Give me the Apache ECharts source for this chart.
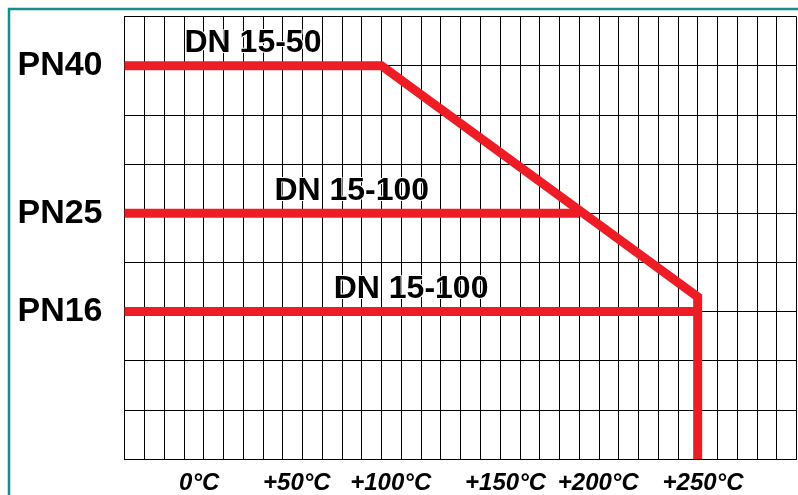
<!DOCTYPE html>
<html>
<head>
<meta charset="utf-8">
<script src="https://cdn.jsdelivr.net/npm/echarts@6/dist/echarts.min.js"></script>
<style>
  html, body { margin: 0; padding: 0; background: #fff; }
  #chart { width: 798px; height: 495px; }
</style>
</head>
<body>
<div id="chart"></div>
<script>
// grid columns / rows (chart uses grid units)
const colCount = 34;
const rowCount = 9;

// pressure levels: row position on the grid
const pnNames = ["PN40", "PN25", "PN16"];
const pnRows = [8, 5, 3];

// temperature labels and their position in grid columns
const tempLabels = ["0°C", "+50°C", "+100°C", "+150°C", "+200°C", "+250°C"];
const tempCols = [3.78, 8.72, 13.47, 19.28, 23.97, 29.27];

// curves [column, row]
const pn40Line = [[0, 8], [13, 8], [29, 3.3], [29, 0]];
const pn25Line = [[0, 5], [23, 5]];
const pn16Line = [[0, 3], [29, 3]];

// size range labels
const dnLabels = ["DN 15-50", "DN 15-100", "DN 15-100"];
const dnPos = [[6.5, 8.45], [11.5, 5.45], [14.5, 3.45]];

const red = "#ee1c25";
const font = "'Liberation Sans', Arial, sans-serif";

const myChart = echarts.init(document.getElementById("chart"));

const lineSeries = [pn40Line, pn25Line, pn16Line].map(function (d) {
  return {
    type: "line",
    data: d,
    symbol: "none",
    clip: false,
    z: 5,
    lineStyle: { color: red, width: 9, join: "miter", cap: "butt" },
  };
});

const option = {
  animation: false,
  grid: { left: 124.5, top: 16.5, right: 1.5, bottom: 35 },
  xAxis: {
    type: "value",
    min: 0,
    max: colCount,
    interval: 1,
    axisLine: { show: true, lineStyle: { color: "#000", width: 1 } },
    axisTick: { show: false },
    splitLine: { show: true, lineStyle: { color: "#000", width: 1 } },
    axisLabel: {
      customValues: tempCols,
      margin: 12,
      color: "#000",
      fontFamily: font,
      fontSize: 24,
      fontWeight: "bold",
      fontStyle: "italic",
      formatter: function (v) {
        const i = tempCols.indexOf(v);
        return i >= 0 ? tempLabels[i] : "";
      },
    },
  },
  yAxis: {
    type: "value",
    min: 0,
    max: rowCount,
    interval: 1,
    axisLine: { show: true, lineStyle: { color: "#000", width: 1 } },
    axisTick: { show: false },
    splitLine: { show: true, lineStyle: { color: "#000", width: 1 } },
    axisLabel: {
      customValues: pnRows,
      margin: 22,
      color: "#000",
      fontFamily: font,
      fontSize: 34,
      fontWeight: "bold",
      formatter: function (v) {
        const i = pnRows.indexOf(v);
        return i >= 0 ? pnNames[i] : "";
      },
    },
  },
  graphic: [
    {
      type: "rect",
      shape: { x: 9, y: 9, width: 820, height: 520 },
      style: { fill: "none", stroke: "#178a8a", lineWidth: 2.5 },
      silent: true,
    },
  ],
  series: lineSeries.concat([
    {
      type: "scatter",
      symbolSize: 0,
      z: 6,
      itemStyle: { opacity: 1 },
      data: dnPos.map(function (p, i) {
        return { value: p, name: dnLabels[i] };
      }),
      label: {
        show: true,
        position: "inside",
        formatter: "{b}",
        color: "#000",
        opacity: 1,
        textBorderColor: "#fff",
        textBorderWidth: 2,
        fontFamily: font,
        fontSize: 32,
        fontWeight: "bold",
      },
    },
  ]),
};

myChart.setOption(option);
window.addEventListener("resize", function () {
  myChart.resize();
});
</script>
</body>
</html>
